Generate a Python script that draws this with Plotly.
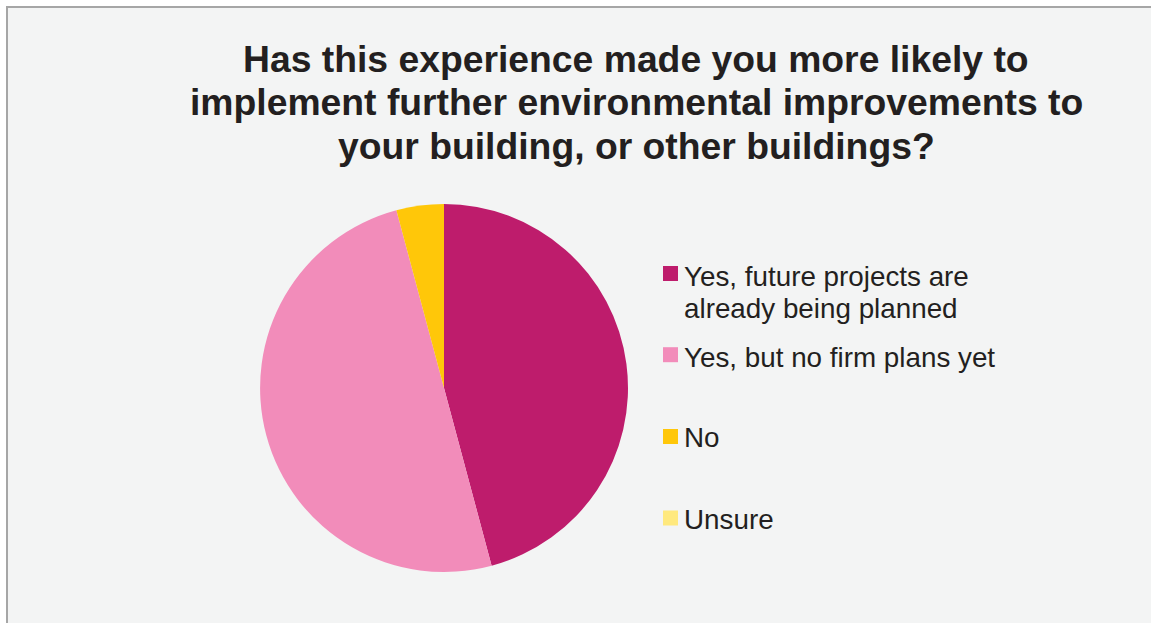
import plotly.graph_objects as go

# Survey responses
labels = [
    "Yes, future projects are already being planned",
    "Yes, but no firm plans yet",
    "No",
    "Unsure",
]
legend_lines = [
    ["Yes, future projects are", "already being planned"],
    ["Yes, but no firm plans yet"],
    ["No"],
    ["Unsure"],
]
values = [11, 12, 1, 0]
colors = ["#be1c6c", "#f28cba", "#ffc709", "#ffe97e"]

title_lines = [
    "Has this experience made you more likely to",
    "implement further environmental improvements to",
    "your building, or other buildings?",
]

W, H = 1151, 623
FONT = "Liberation Sans, Arial, sans-serif"
TEXT_COLOR = "#231f20"


def px(x):
    return x / W


def py(y):
    return 1 - y / H


# pie placement (pixel centre and radius)
cx, cy, r = 444, 388, 184

fig = go.Figure(
    go.Pie(
        labels=labels,
        values=values,
        marker=dict(colors=colors, line=dict(width=0)),
        sort=False,
        direction="clockwise",
        rotation=0,
        textinfo="none",
        hoverinfo="label+percent",
        showlegend=False,
        domain=dict(x=[px(cx - r), px(cx + r)], y=[py(cy + r), py(cy - r)]),
    )
)

shapes = [
    # chart area frame
    dict(
        type="rect", xref="paper", yref="paper",
        x0=px(7), x1=px(W + 10), y0=py(H + 10), y1=py(7),
        fillcolor="#f3f4f4", line=dict(color="#a6a6a6", width=2),
        layer="below",
    )
]
annotations = []

# title, one annotation per line
title_size = 37.3
title_centres = [58.5, 102.5, 146.5]
for line, yc in zip(title_lines, title_centres):
    annotations.append(dict(
        text=f"<b>{line}</b>", xref="paper", yref="paper",
        x=px(636), y=py(yc), xanchor="center", yanchor="middle",
        showarrow=False, font=dict(family=FONT, size=title_size, color=TEXT_COLOR),
    ))

# legend: colour swatch + label lines
leg_size = 27.8
swatch_centres = [273.5, 354.7, 436.5, 518]
first_line_centres = [276.6, 357.6, 437.6, 519.6]
line_gap = 32
for lines, col, sy, ty in zip(legend_lines, colors, swatch_centres, first_line_centres):
    shapes.append(dict(
        type="rect", xref="paper", yref="paper",
        x0=px(663), x1=px(678), y0=py(sy + 7.5), y1=py(sy - 7.5),
        fillcolor=col, line=dict(width=0),
    ))
    for i, line in enumerate(lines):
        annotations.append(dict(
            text=line, xref="paper", yref="paper",
            x=px(682), y=py(ty + i * line_gap), xanchor="left", yanchor="middle",
            showarrow=False, font=dict(family=FONT, size=leg_size, color=TEXT_COLOR),
        ))

fig.update_layout(
    width=W, height=H,
    margin=dict(l=0, r=0, t=0, b=0),
    paper_bgcolor="white",
    plot_bgcolor="white",
    shapes=shapes,
    annotations=annotations,
)

fig.write_html("out.html", config={"displayModeBar": False})
